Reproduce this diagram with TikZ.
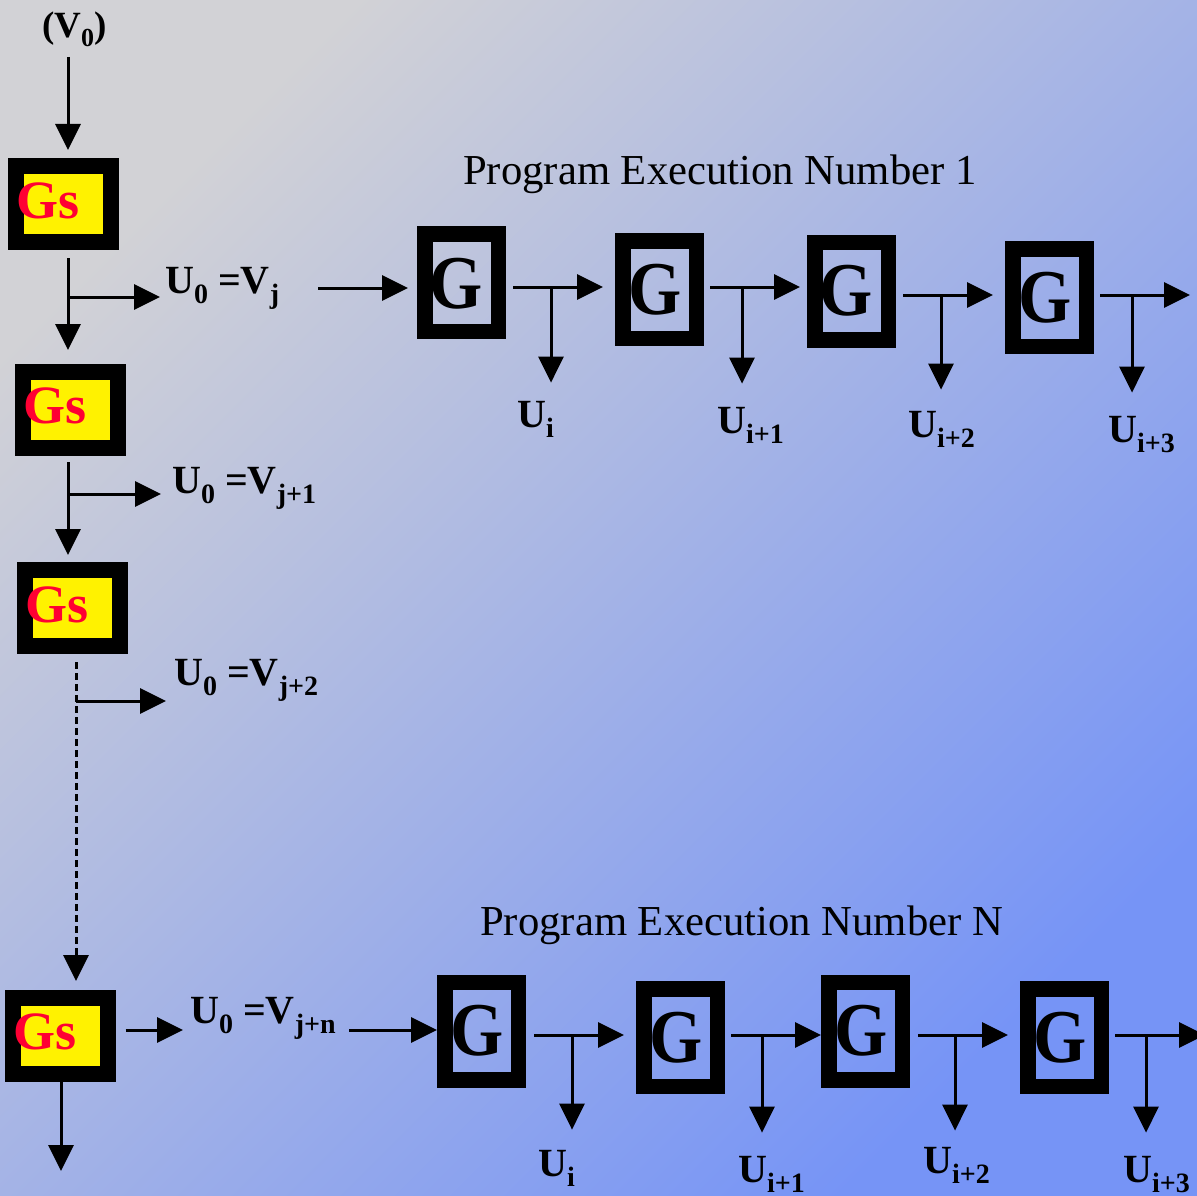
\documentclass[tikz,border=0pt]{standalone}
\usepackage{fontspec}
\setmainfont{Liberation Serif}
\usetikzlibrary{arrows.meta}
\definecolor{gsred}{RGB}{255,0,51}
\definecolor{bgA}{RGB}{210,210,214}
\definecolor{bgM}{RGB}{176,184,226}
\definecolor{bgB}{RGB}{118,148,246}
\newcommand\sbs[1]{\raisebox{-10pt}{\fontsize{28}{28}\selectfont #1}}
\newcommand\sbv[1]{\raisebox{-9pt}{\fontsize{26}{26}\selectfont #1}}
\tikzset{
  conn/.style={line width=3pt, -{Triangle[length=26pt,width=25pt]}},
  dconn/.style={conn, dash pattern=on 7pt off 4pt},
  gsbox/.style={draw=black, fill=yellow, line width=16pt, minimum width=95pt, minimum height=76pt, inner sep=0pt},
  gbox/.style={draw=black, line width=15.5pt, minimum width=73.5pt, minimum height=97.5pt, inner sep=0pt},
  gsl/.style={anchor=base west, inner sep=0pt, text=gsred, font=\fontsize{54}{54}\selectfont\bfseries},
  gl/.style={anchor=base, inner sep=0pt, font=\fontsize{76}{76}\selectfont\bfseries},
  lbl/.style={anchor=base west, inner sep=0pt, font=\fontsize{40}{40}\selectfont\bfseries},
  lblv/.style={anchor=base west, inner sep=0pt, font=\fontsize{37}{37}\selectfont\bfseries},
  ttl/.style={anchor=base west, inner sep=0pt, font=\fontsize{42.7}{42.7}\selectfont},
}
\newcommand\bigG{\scalebox{0.9}[1]{G}}
\begin{document}
\begin{tikzpicture}[x=1pt,y=-1pt]
\shade[top color=bgA, middle color=bgM, bottom color=bgB, shading angle=45] (0,0) rectangle (1197,1196);
\useasboundingbox (0,0) rectangle (1197,1196);

% ---- left column ----
\node[lblv] (v0) at (42,38) {(V\sbv{0})};
\node[gsbox] (gs1) at (63.5,204) {};
\node[gsl] (gs1t) at (16,218) {Gs};
\node[gsbox] (gs2) at (70.5,410) {};
\node[gsl] (gs2t) at (23,423) {Gs};
\node[gsbox] (gs3) at (72,608) {};
\node[gsl] (gs3t) at (25,622) {Gs};
\node[gsbox] (gs4) at (60,1036) {};
\node[gsl] (gs4t) at (13,1049) {Gs};

\node[lbl] (lab1) at (165,293) {U\sbs{0} =V\sbs{j}};
\node[lbl] (lab2) at (172,493) {U\sbs{0} =V\sbs{j+1}};
\node[lbl] (lab3) at (174,685) {U\sbs{0} =V\sbs{j+2}};
\node[lbl] (lab4) at (190,1023) {U\sbs{0} =V\sbs{j+n}};

\coordinate (a0) at (68,57);
\coordinate (sp1) at (68,0);
\coordinate (sp3) at (76,0);
\coordinate (sp4) at (61,0);
\coordinate (j1) at (68,297);
\coordinate (j2) at (68,494);
\coordinate (j3) at (76,701);
\coordinate (h4) at (0,1030);
\coordinate (e4) at (61,1171);

\draw[conn, shorten >=8pt] (a0) -- (a0 |- gs1.north);
\draw[conn, shorten <=8pt, shorten >=14pt] (sp1 |- gs1.south) -- (sp1 |- gs2.north);
\draw[conn, shorten <=6pt, shorten >=7pt] (sp1 |- gs2.south) -- (sp1 |- gs3.north);
\draw[dconn, shorten <=8pt, shorten >=9pt] (sp3 |- gs3.south) -- (sp3 |- gs4.north);
\draw[conn] (sp4 |- gs4.south) -- (e4);
\draw[conn, shorten >=5pt] (j1) -- (j1 -| lab1.west);
\draw[conn, shorten >=11pt] (j2) -- (j2 -| lab2.west);
\draw[conn, shorten >=8pt] (j3) -- (j3 -| lab3.west);
\draw[conn, shorten <=10pt, shorten >=7pt] (gs4.east |- h4) -- (lab4.west |- h4);

% ---- program execution 1 ----
\node[ttl] (t1) at (463,184) {Program Execution Number 1};
\node[gbox] (g11) at (461.5,282.5) {};
\node[gbox] (g12) at (659.5,289.5) {};
\node[gbox] (g13) at (851.5,291) {};
\node[gbox] (g14) at (1049.5,297.5) {};
\node[gl] (g11t) at (456.5,308) {\bigG};
\node[gl] (g12t) at (655,314) {\bigG};
\node[gl] (g13t) at (846.5,315) {\bigG};
\node[gl] (g14t) at (1045,322) {\bigG};
\node[lbl] (u11) at (517,427) {U\sbs{i}};
\node[lbl] (u12) at (717,433) {U\sbs{i+1}};
\node[lbl] (u13) at (908,437) {U\sbs{i+2}};
\node[lbl] (u14) at (1108,442) {U\sbs{i+3}};

\coordinate (r1) at (318,288);
\coordinate (o11) at (513,287);
\coordinate (k11) at (551,287);
\coordinate (o12) at (710,287);
\coordinate (k12) at (742,287);
\coordinate (o13) at (903,295);
\coordinate (k13) at (941,295);
\coordinate (o14) at (1100,295);
\coordinate (k14) at (1132,295);
\coordinate (e14) at (1190,295);

\draw[conn, shorten >=9pt] (r1) -- (r1 -| g11.west);
\draw[conn, shorten >=12pt] (o11) -- (o11 -| g12.west);
\draw[conn, shorten >=18pt] (k11) -- (k11 |- u11.north);
\draw[conn, shorten >=7pt] (o12) -- (o12 -| g13.west);
\draw[conn, shorten >=23pt] (k12) -- (k12 |- u12.north);
\draw[conn, shorten >=12pt] (o13) -- (o13 -| g14.west);
\draw[conn, shorten >=21pt] (k13) -- (k13 |- u13.north);
\draw[conn] (o14) -- (e14);
\draw[conn, shorten >=23pt] (k14) -- (k14 |- u14.north);

% ---- program execution N ----
\node[ttl] (t2) at (480,935) {Program Execution Number N};
\node[gbox] (g21) at (481.5,1031) {};
\node[gbox] (g22) at (680.5,1037.5) {};
\node[gbox] (g23) at (865.5,1031) {};
\node[gbox] (g24) at (1064.5,1037.5) {};
\node[gl] (g21t) at (477,1055) {\bigG};
\node[gl] (g22t) at (676,1062) {\bigG};
\node[gl] (g23t) at (861.5,1055) {\bigG};
\node[gl] (g24t) at (1060,1062) {\bigG};
\node[lbl] (u21) at (538,1176) {U\sbs{i}};
\node[lbl] (u22) at (738,1182) {U\sbs{i+1}};
\node[lbl] (u23) at (923,1173) {U\sbs{i+2}};
\node[lbl] (u24) at (1123,1182) {U\sbs{i+3}};

\coordinate (r2) at (349,1030);
\coordinate (o21) at (534,1035);
\coordinate (k21) at (572,1035);
\coordinate (o22) at (731,1035);
\coordinate (k22) at (762,1035);
\coordinate (o23) at (918,1035);
\coordinate (k23) at (955,1035);
\coordinate (o24) at (1115,1035);
\coordinate (k24) at (1146,1035);
\coordinate (e24) at (1205,1035);

\draw[conn] (r2) -- (r2 -| g21.west);
\draw[conn, shorten >=12pt] (o21) -- (o21 -| g22.west);
\draw[conn, shorten >=20pt] (k21) -- (k21 |- u21.north);
\draw[conn] (o22) -- (o22 -| g23.west);
\draw[conn, shorten >=23pt] (k22) -- (k22 |- u22.north);
\draw[conn, shorten >=12pt] (o23) -- (o23 -| g24.west);
\draw[conn, shorten >=16pt] (k23) -- (k23 |- u23.north);
\draw[conn] (o24) -- (e24);
\draw[conn, shorten >=23pt] (k24) -- (k24 |- u24.north);
\end{tikzpicture}
\end{document}
